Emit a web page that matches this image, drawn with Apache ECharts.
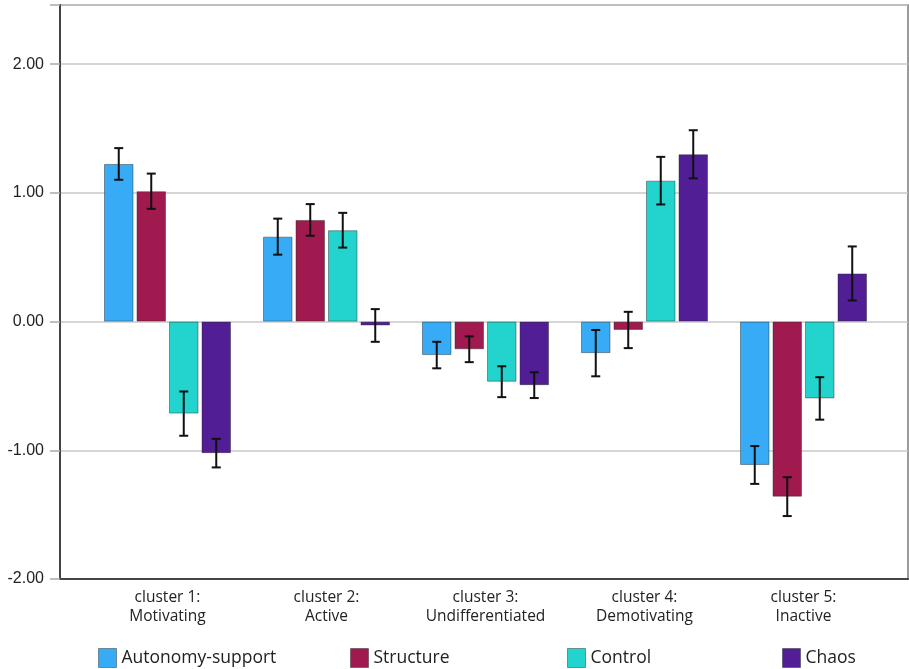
<!DOCTYPE html>
<html>
<head>
<meta charset="utf-8">
<script src="https://cdn.jsdelivr.net/npm/echarts@6/dist/echarts.min.js"></script>
<style>
  html, body { margin: 0; padding: 0; background: #fff; }
  #chart { width: 909px; height: 669px; }
</style>
</head>
<body>
<div id="chart"></div>
<script>
// Cluster profiles: mean z-scores with error bars
const categories = [
  'cluster 1:\nMotivating',
  'cluster 2:\nActive',
  'cluster 3:\nUndifferentiated',
  'cluster 4:\nDemotivating',
  'cluster 5:\nInactive'
];
const seriesNames = ['Autonomy-support', 'Structure', 'Control', 'Chaos'];

const autonomyMean = [1.225, 0.66, -0.26, -0.245, -1.114];
const structureMean = [1.013, 0.79, -0.215, -0.065, -1.36];
const controlMean = [-0.715, 0.71, -0.467, 1.095, -0.597];
const chaosMean = [-1.022, -0.03, -0.494, 1.30, 0.374];

// half-width of each error bar
const autonomyErr = [0.123, 0.14, 0.103, 0.18, 0.147];
const structureErr = [0.137, 0.123, 0.10, 0.141, 0.151];
const controlErr = [0.172, 0.135, 0.12, 0.185, 0.165];
const chaosErr = [0.111, 0.127, 0.10, 0.187, 0.21];

const yTicks = [-2, -1, 0, 1, 2];

const means = [autonomyMean, structureMean, controlMean, chaosMean];
const errs = [autonomyErr, structureErr, controlErr, chaosErr];
const colors = ['#37abf6', '#a01a50', '#22d3ce', '#511e96'];

const BAR_W = 29.5;
const BAR_GAP = 3;
const Y_MIN = -2, Y_MAX = 2.46;

const chart = echarts.init(document.getElementById('chart'), null, { renderer: 'canvas' });

const barSeries = seriesNames.map((name, k) => ({
  name: name,
  type: 'bar',
  xAxisIndex: 1,
  yAxisIndex: 1,
  barWidth: BAR_W,
  barGap: (BAR_GAP / BAR_W * 100) + '%',
  itemStyle: { color: colors[k], borderColor: 'rgba(40,40,40,0.45)', borderWidth: 1 },
  data: means[k],
  z: 2
}));

const errSeries = seriesNames.map((name, k) => ({
  name: name + ' error',
  type: 'custom',
  xAxisIndex: 1,
  yAxisIndex: 1,
  z: 5,
  data: means[k].map((m, i) => [i, m - errs[k][i], m + errs[k][i]]),
  renderItem: function (params, api) {
    const offset = (k - 1.5) * (BAR_W + BAR_GAP);
    const lo = api.coord([api.value(0), api.value(1)]);
    const hi = api.coord([api.value(0), api.value(2)]);
    const x = lo[0] + offset;
    const cap = 4.5;
    const st = { stroke: '#111', lineWidth: 2 };
    return {
      type: 'group',
      children: [
        { type: 'line', shape: { x1: x, y1: lo[1], x2: x, y2: hi[1] }, style: st },
        { type: 'line', shape: { x1: x - cap, y1: lo[1], x2: x + cap, y2: lo[1] }, style: st },
        { type: 'line', shape: { x1: x - cap, y1: hi[1], x2: x + cap, y2: hi[1] }, style: st }
      ]
    };
  },
  tooltip: { show: false }
}));

const legendLefts = [98, 350, 567, 782];
const legends = seriesNames.map((name, k) => ({
  data: [name],
  left: legendLefts[k],
  top: 648,
  itemWidth: 18,
  itemHeight: 19,
  itemGap: 0,
  selectedMode: false,
  icon: 'rect',
  itemStyle: { borderColor: 'rgba(40,40,40,0.45)', borderWidth: 1 },
  textStyle: { fontFamily: 'Open Sans', fontSize: 17.5, color: '#222', padding: [0, 0, 0, 0] },
  padding: 0
}));

const option = {
  backgroundColor: '#fff',
  animation: false,
  color: colors,
  legend: legends,
  grid: [
    { left: 60, right: 1, top: 5, bottom: 90, show: true, borderColor: '#7a7a7a', borderWidth: 1.5, containLabel: false },
    { left: 88, width: 795, top: 5, bottom: 90, containLabel: false }
  ],
  xAxis: [
    {
      gridIndex: 0, type: 'category', data: categories,
      axisLine: { onZero: false, lineStyle: { color: '#444', width: 2 } },
      axisTick: { show: false }, axisLabel: { show: false }, splitLine: { show: false }
    },
    {
      gridIndex: 1, type: 'category', data: categories,
      axisLine: { show: false, onZero: false },
      axisTick: { show: false },
      axisLabel: {
        margin: 9,
        fontFamily: 'Open Sans', fontSize: 15.5, color: '#222', lineHeight: 19, align: 'center'
      }
    }
  ],
  yAxis: [
    {
      gridIndex: 0, type: 'value', min: Y_MIN, max: Y_MAX, interval: 1,
      axisLine: { show: true, lineStyle: { color: '#444', width: 2 } },
      axisTick: { show: true, length: 10, lineStyle: { color: '#aaa', width: 1.5 } },
      axisLabel: {
        margin: 16, fontFamily: 'Liberation Sans', fontSize: 16, color: '#222',
        formatter: v => yTicks.includes(v) ? v.toFixed(2) : ''
      },
      splitLine: { show: true, lineStyle: { color: '#c8c8c8', width: 1.5 } }
    },
    {
      gridIndex: 1, type: 'value', min: Y_MIN, max: Y_MAX, interval: 1,
      show: false, splitLine: { show: false }
    }
  ],
  series: [...barSeries, ...errSeries]
};

chart.setOption(option);
</script>
</body>
</html>
